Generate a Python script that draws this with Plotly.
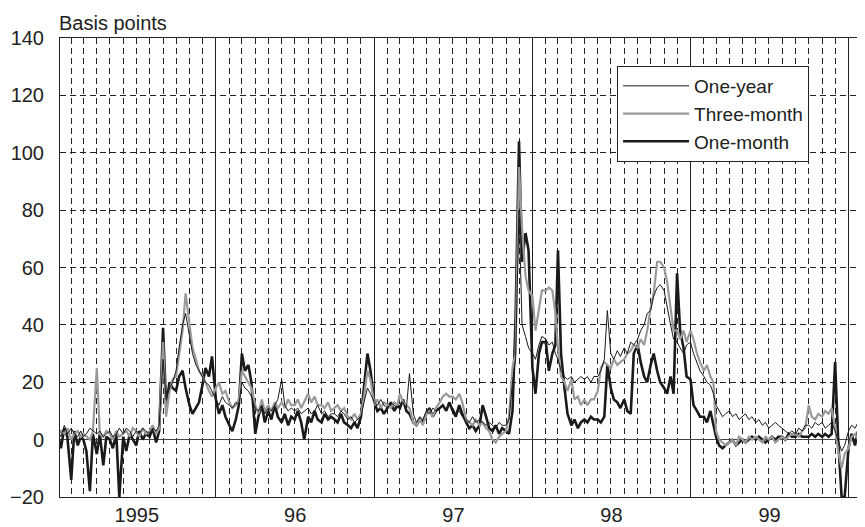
import plotly.graph_objects as go

# ---------------- data (basis points), sampled on days 1, 8, 16, 23 of each month ----------------
SAMPLE_DAYS = [1, 8, 16, 23]
YEAR_LABELS = {"1996": "96", "1997": "97", "1998": "98", "1999": "99"}

ONE_YEAR_1995 = [3, 1, 5, 2, 4, 2, 1, 3, 1, 2, 4, 3, 2, 3, 1, 2, 3, 1, 2, 4, 2, 4, 3, 1,
                 3, 2, 4, 3, 2, 4, 3, 5, 28, 14, 18, 20, 24, 32, 40, 44, 36, 30, 26, 24, 22, 20, 19, 17]
ONE_YEAR_1996 = [14, 12, 15, 13, 12, 11, 13, 12, 20, 18, 17, 15, 11, 10, 12, 9, 11, 10, 12, 14, 21, 12, 10, 11,
                 10, 11, 9, 10, 11, 9, 10, 12, 9, 10, 8, 9, 9, 8, 10, 9, 7, 8, 6, 7, 8, 13, 18, 16]
ONE_YEAR_1997 = [13, 12, 14, 12, 11, 13, 12, 11, 12, 13, 11, 23, 9, 6, 8, 7, 10, 9, 11, 10, 11, 12, 10, 12,
                 11, 9, 10, 8, 7, 6, 8, 6, 7, 6, 5, 6, 5, 4, 6, 5, 5, 7, 20, 28, 80, 40, 36, 32]
ONE_YEAR_1998 = [30, 28, 33, 36, 35, 33, 34, 30, 28, 24, 22, 21, 22, 20, 21, 22, 21, 22, 20, 22, 22, 24, 28, 45,
                 30, 28, 31, 29, 32, 30, 34, 33, 35, 38, 40, 44, 45, 50, 53, 54, 52, 46, 40, 35, 34, 32, 30, 33]
ONE_YEAR_1999 = [34, 30, 27, 24, 22, 20, 19, 16, 12, 10, 8, 9, 10, 8, 9, 7, 8, 9, 7, 8, 6, 7, 5, 6,
                 4, 5, 6, 5, 4, 3, 2, 3, 2, 4, 3, 5, 5, 4, 6, 5, 6, 4, 5, 6, 3, 0, -4, -2]
ONE_YEAR_2000 = [3, 5, 4, 6, 5, 4, 6, 5]

THREE_MONTH_1995 = [1, 3, 2, 4, 0, 2, 3, 1, 2, 1, 0, 3, 25, 2, 1, 3, 2, 0, 3, 1, 2, 3, 1, 4,
                    3, 1, 4, 2, 3, 5, 2, 4, 34, 8, 17, 21, 22, 30, 38, 51, 40, 32, 28, 24, 22, 20, 17, 15]
THREE_MONTH_1996 = [18, 20, 16, 17, 13, 11, 12, 14, 24, 22, 20, 18, 12, 9, 14, 10, 12, 10, 13, 11, 13, 11, 14, 12,
                    12, 14, 11, 13, 16, 13, 15, 12, 12, 11, 13, 10, 11, 12, 10, 11, 8, 7, 9, 7, 9, 15, 24, 21]
THREE_MONTH_1997 = [12, 14, 11, 13, 12, 11, 13, 12, 16, 13, 12, 11, 6, 5, 7, 5, 9, 10, 8, 11, 13, 15, 16, 15,
                    15, 14, 16, 13, 7, 6, 5, 7, 5, 6, 4, 3, 0, -1, 1, 2, 3, 8, 25, 30, 95, 74, 57, 52]
THREE_MONTH_1998 = [50, 38, 45, 52, 52, 53, 52, 44, 32, 22, 20, 17, 21, 14, 15, 12, 14, 12, 14, 14, 17, 25, 27, 26,
                    25, 28, 26, 27, 28, 30, 31, 33, 32, 35, 33, 38, 46, 51, 62, 62, 60, 55, 45, 38, 38, 35, 38, 34]
THREE_MONTH_1999 = [38, 35, 30, 27, 24, 26, 22, 20, 3, 0, -1, -2, -1, 0, -2, 1, 0, -1, 1, 0, 1, 0, -1, 1,
                    0, 1, -1, 0, 1, 0, 1, 2, 2, 1, 3, 4, 12, 8, 7, 9, 8, 10, 9, 11, 4, -4, -10, -5]
THREE_MONTH_2000 = [-3, 1, 2, 0, 2, 1, 3, 2]

ONE_MONTH_1995 = [2, -3, 4, 1, -14, 3, -2, 1, 0, -4, -18, 2, -5, 2, -9, 1, 0, -3, 2, -20, 1, -4, 2, 0,
                  -2, 3, 0, 2, 1, 4, -1, 3, 39, 12, 20, 18, 17, 22, 24, 18, 12, 9, 11, 13, 19, 25, 22, 29]
ONE_MONTH_1996 = [14, 9, 12, 8, 5, 3, 7, 12, 30, 24, 26, 20, 2, 8, 12, 6, 10, 7, 12, 8, 6, 9, 5, 8,
                  7, 10, 6, 0, 8, 6, 10, 7, 6, 9, 7, 8, 7, 6, 9, 6, 5, 4, 6, 4, 8, 18, 30, 24]
ONE_MONTH_1997 = [13, 10, 11, 9, 11, 13, 10, 12, 11, 14, 10, 9, 6, 5, 7, 6, 9, 11, 8, 10, 11, 12, 10, 13,
                  10, 8, 12, 9, 6, 4, 5, 3, 5, 12, 8, 4, 3, 5, 2, 4, 3, 2, 10, 42, 104, 62, 72, 66]
ONE_MONTH_1998 = [25, 16, 30, 34, 34, 24, 30, 33, 66, 30, 18, 9, 5, 7, 4, 6, 7, 6, 8, 7, 7, 6, 8, 26,
                  18, 14, 13, 11, 14, 10, 9, 30, 33, 27, 22, 20, 26, 30, 24, 20, 18, 16, 22, 16, 58, 38, 32, 22]
ONE_MONTH_1999 = [21, 12, 10, 8, 8, 6, 10, 5, 1, -2, -3, -2, -1, 0, -2, -1, 0, -1, 0, 1, 0, 1, 0, -1,
                  0, 1, 0, 1, 1, 0, 2, 1, 1, 2, 1, 1, 1, 2, 1, 2, 1, 2, 1, 2, 27, 0, -20, -20]
ONE_MONTH_2000 = [-3, 2, -2, 3, 1, -1, 2, 0]

# ---------------- build series ----------------
dates = []
for yr in range(1995, 2001):
    for mo in range(1, 13):
        if yr == 2000 and mo > 2:
            break
        for d in SAMPLE_DAYS:
            dates.append(f"{yr}-{mo:02d}-{d:02d}")

one_year = ONE_YEAR_1995 + ONE_YEAR_1996 + ONE_YEAR_1997 + ONE_YEAR_1998 + ONE_YEAR_1999 + ONE_YEAR_2000
three_month = (THREE_MONTH_1995 + THREE_MONTH_1996 + THREE_MONTH_1997 + THREE_MONTH_1998
               + THREE_MONTH_1999 + THREE_MONTH_2000)
one_month = (ONE_MONTH_1995 + ONE_MONTH_1996 + ONE_MONTH_1997 + ONE_MONTH_1998
             + ONE_MONTH_1999 + ONE_MONTH_2000)

n = min(len(dates), len(one_year), len(three_month), len(one_month))

fig = go.Figure()
fig.add_trace(go.Scatter(x=dates[:n], y=one_month[:n], mode="lines", name="One-month",
                         line=dict(color="#1a1a1a", width=2.6), legendrank=3))
fig.add_trace(go.Scatter(x=dates[:n], y=three_month[:n], mode="lines", name="Three-month",
                         line=dict(color="#9a9a9a", width=2.2), legendrank=2))
fig.add_trace(go.Scatter(x=dates[:n], y=one_year[:n], mode="lines", name="One-year",
                         line=dict(color="#1a1a1a", width=1), legendrank=1))

FONT = "Liberation Sans, Arial, Helvetica, sans-serif"

# The page body has an 8px margin, so the figure is 8px smaller than the window
fig.update_layout(
    width=857, height=519,
    margin=dict(l=52, r=0, t=30, b=30),
    paper_bgcolor="white", plot_bgcolor="white",
    font=dict(family=FONT, size=20, color="#222222"),
    showlegend=True,
    legend=dict(x=0.692, y=0.939, xanchor="left", yanchor="top",
                bordercolor="#222222", borderwidth=1, bgcolor="white",
                font=dict(size=19, color="#222222"), itemwidth=66,
                entrywidth=132, entrywidthmode="pixels", tracegroupgap=0),
    xaxis=dict(type="date", range=["1995-01-06", "2000-02-08"],
               dtick="M12", tick0="1995-01-01", ticklabelmode="period",
               tickformat="%Y", labelalias=YEAR_LABELS,
               showgrid=True, gridcolor="#222222", gridwidth=1,
               ticks="", showline=True, linecolor="#222222", linewidth=1, mirror=True,
               minor=dict(dtick="M1", tick0="1995-01-01", showgrid=True,
                          gridcolor="#222222", gridwidth=1, griddash="6px,4px"),
               tickfont=dict(size=20)),
    yaxis=dict(range=[-20, 140], dtick=20, tick0=0,
               showgrid=True, gridcolor="#222222", gridwidth=1, griddash="6px,4px",
               zeroline=True, zerolinecolor="#444444", zerolinewidth=1,
               showline=True, linecolor="#222222", linewidth=1,
               ticks="outside", ticklen=11, tickcolor="rgba(0,0,0,0)",
               tickfont=dict(size=20)),
    annotations=[dict(text="Basis points", xref="paper", yref="paper", x=0, y=1,
                      xanchor="left", yanchor="bottom", xshift=-3, yshift=2, showarrow=False,
                      font=dict(size=20, color="#222222"))],
)

fig.write_html("out.html")
